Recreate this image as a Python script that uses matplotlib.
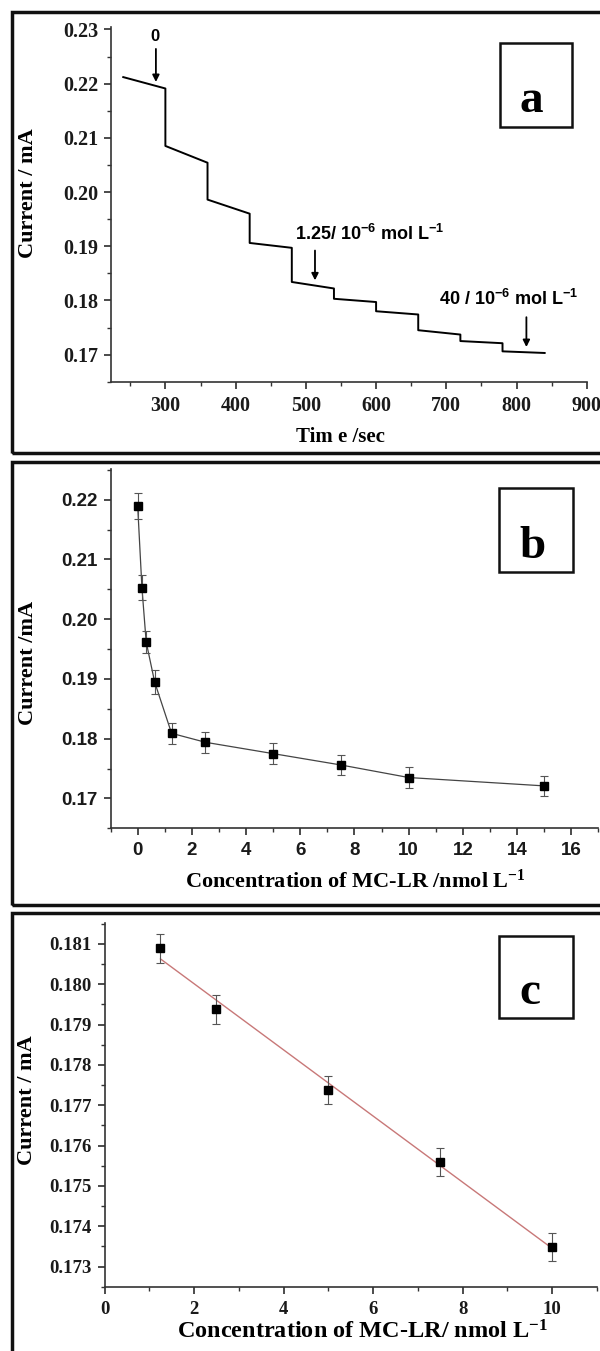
import matplotlib
matplotlib.use('Agg')
import matplotlib.pyplot as plt
from matplotlib.patches import Rectangle
from matplotlib.ticker import MultipleLocator, FormatStrFormatter
import numpy as np

plt.rcParams['font.family'] = ['Liberation Serif', 'DejaVu Serif']
plt.rcParams['font.weight'] = 'bold'
plt.rcParams['axes.labelweight'] = 'bold'
plt.rcParams['mathtext.default'] = 'regular'

# (a) resposta amperometrica em degraus
t_step = [240, 300, 360, 420, 480, 540, 600, 660, 720, 780]
t_end = 840
i_start = [0.2212, 0.2085, 0.1986, 0.1906, 0.1834, 0.1803, 0.1780, 0.1745, 0.1725, 0.1706]
i_end = [0.2191, 0.2054, 0.1960, 0.1897, 0.1822, 0.1797, 0.1774, 0.1737, 0.1721, 0.1703]

# (b) corrente x concentracao
conc_b = [0, 0.156, 0.3125, 0.625, 1.25, 2.5, 5, 7.5, 10, 15]
cur_b = [0.2189, 0.2053, 0.1962, 0.1895, 0.1809, 0.1794, 0.1775, 0.1756, 0.1735, 0.1721]
err_b = [0.0022, 0.0021, 0.0019, 0.0020, 0.0018, 0.0018, 0.0017, 0.0017, 0.0017, 0.0017]

# (c) faixa linear
conc_c = [1.25, 2.5, 5, 7.5, 10]
cur_c = [0.18089, 0.17938, 0.17738, 0.17559, 0.17349]
err_c = [0.00036, 0.00036, 0.00035, 0.00035, 0.00035]

W, H = 600, 1351
fig = plt.figure(figsize=(W / 100, H / 100), dpi=100)


def fx(px):
    return px / W


def fy(py):
    return 1 - py / H


def eixo(left, right, top, bottom):
    return fig.add_axes([fx(left), fy(bottom), (right - left) / W, (bottom - top) / H])


def estilo(ax, fam, tam):
    for s in ['top', 'right']:
        ax.spines[s].set_visible(False)
    for s in ['left', 'bottom']:
        ax.spines[s].set_linewidth(1.2)
        ax.spines[s].set_color('#333333')
    ax.tick_params(which='major', direction='out', length=5, width=1.1, pad=4,
                   labelsize=tam, labelfontfamily=fam, colors='#1a1a1a')
    ax.tick_params(which='minor', direction='out', length=3, width=1.0, colors='#333333')
    ax.tick_params(axis='x', which='major', pad=5)


# molduras dos paineis
for top, bottom in [(11.7, 453), (461.7, 905), (913.3, 1362)]:
    fig.patches.append(Rectangle((fx(11.5), fy(bottom)), fx(640) - fx(11.5), (bottom - top) / H,
                                 transform=fig.transFigure, fill=False, lw=2.5, ec='#111111'))

# caixas das letras
for (x0, x1, y0, y1), letra, xc, yb in [((500, 572, 43.3, 126.5), 'a', 531.7, 111.7),
                                         ((499, 573, 488.3, 571.7), 'b', 532, 558),
                                         ((499, 573, 936, 1018.3), 'c', 530, 1004)]:
    fig.patches.append(Rectangle((fx(x0), fy(y1)), (x1 - x0) / W, (y1 - y0) / H,
                                 transform=fig.transFigure, fill=False, lw=1.8, ec='#111111'))
    fig.text(fx(xc), fy(yb), letra, fontsize=34, ha='center', va='baseline',
             family='Liberation Serif', weight='bold')

# ---------------- painel a ----------------
ax1 = eixo(110.6, 587.5, 26.7, 381.7)
tx, ty = [], []
fins = t_step[1:] + [t_end]
for t0, t1, y0, y1 in zip(t_step, fins, i_start, i_end):
    tx += [t0, t1]
    ty += [y0, y1]
ax1.plot(tx, ty, '-', color='black', linewidth=1.4)
ax1.set_xlim(222, 901)
ax1.set_ylim(0.165, 0.2305)
ax1.xaxis.set_major_locator(MultipleLocator(100))
ax1.xaxis.set_minor_locator(MultipleLocator(50))
ax1.yaxis.set_major_locator(MultipleLocator(0.01))
ax1.yaxis.set_minor_locator(MultipleLocator(0.005))
ax1.yaxis.set_major_formatter(FormatStrFormatter('%.2f'))
estilo(ax1, 'Liberation Serif', 14.5)
ax1.set_xlabel('Tim e /sec', fontsize=15)
ax1.xaxis.set_label_coords(0.481, -0.128)
ax1.set_ylabel('Current / mA', fontsize=16)
ax1.yaxis.set_label_coords(-0.152, 0.532)

seta = dict(arrowstyle='-|>', color='black', lw=1.3, mutation_scale=10, shrinkA=0, shrinkB=0)
ax1.annotate('', xy=(286.5, 0.2203), xytext=(286.5, 0.2264), arrowprops=seta)
ax1.text(285, 0.2286, '0', ha='center', va='center', fontsize=12, family='Liberation Sans')
ax1.annotate('', xy=(513, 0.1837), xytext=(513, 0.1892), arrowprops=seta)
ax1.text(484, 0.1922, '1.25/ 10$^{-6}$ mol L$^{-1}$', ha='left', va='center', fontsize=13,
         family='Liberation Sans')
ax1.annotate('', xy=(814, 0.1714), xytext=(814, 0.1769), arrowprops=seta)
ax1.text(690, 0.1802, '40 / 10$^{-6}$ mol L$^{-1}$', ha='left', va='center', fontsize=13,
         family='Liberation Sans')

# ---------------- painel b ----------------
ax2 = eixo(110.6, 598.4, 469.3, 828.3)
ax2.plot(conc_b, cur_b, '-', color='#444444', linewidth=0.9)
ax2.errorbar(conc_b, cur_b, yerr=err_b, fmt='none', ecolor='#555555', elinewidth=0.8,
             capsize=3, capthick=0.8)
ax2.plot(conc_b, cur_b, 's', color='black', markersize=5.5)
ax2.set_xlim(-1, 17)
ax2.set_ylim(0.165, 0.2251)
ax2.xaxis.set_major_locator(MultipleLocator(2))
ax2.xaxis.set_minor_locator(MultipleLocator(1))
ax2.yaxis.set_major_locator(MultipleLocator(0.01))
ax2.yaxis.set_minor_locator(MultipleLocator(0.005))
ax2.yaxis.set_major_formatter(FormatStrFormatter('%.2f'))
estilo(ax2, 'Liberation Sans', 13.5)
ax2.set_xlabel('Concentration of MC-LR /nmol L$^{-1}$', fontsize=16)
ax2.xaxis.set_label_coords(0.502, -0.114)
ax2.set_ylabel('Current /mA', fontsize=16)
ax2.yaxis.set_label_coords(-0.148, 0.46)

# ---------------- painel c ----------------
ax3 = eixo(104.5, 597, 923.3, 1286.7)
coef = np.polyfit(conc_c, cur_c, 1)
xf = np.array([conc_c[0], conc_c[-1]])
ax3.plot(xf, np.polyval(coef, xf), '-', color='#c87878', linewidth=1.0)
ax3.errorbar(conc_c, cur_c, yerr=err_c, fmt='none', ecolor='#555555', elinewidth=0.8,
             capsize=3, capthick=0.8)
ax3.plot(conc_c, cur_c, 's', color='black', markersize=5.5)
ax3.set_xlim(0, 11)
ax3.set_ylim(0.1725, 0.18151)
ax3.xaxis.set_major_locator(MultipleLocator(2))
ax3.xaxis.set_minor_locator(MultipleLocator(1))
ax3.yaxis.set_major_locator(MultipleLocator(0.001))
ax3.yaxis.set_minor_locator(MultipleLocator(0.0005))
ax3.yaxis.set_major_formatter(FormatStrFormatter('%.3f'))
estilo(ax3, 'Liberation Serif', 13.5)
ax3.set_xlabel('Concentration of MC-LR/ nmol L$^{-1}$', fontsize=17.5)
ax3.xaxis.set_label_coords(0.524, -0.092)
ax3.set_ylabel('Current / mA', fontsize=16)
ax3.yaxis.set_label_coords(-0.138, 0.514)

fig.savefig('out.png', dpi=100)
